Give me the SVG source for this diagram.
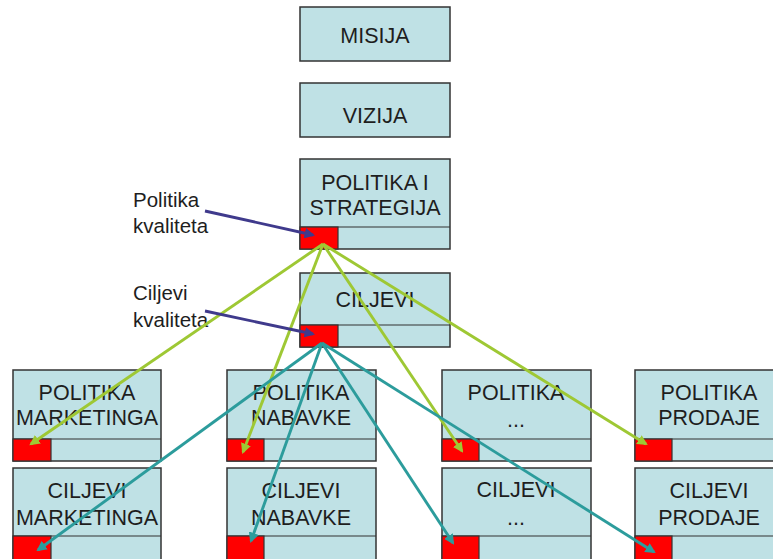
<svg xmlns="http://www.w3.org/2000/svg" width="773" height="559" viewBox="0 0 773 559">
  <style>
    .box { fill: #bfe1e5; stroke: #333; stroke-width: 1.5; }
    .div { stroke: #333; stroke-width: 1.2; fill: none; }
    .tag { fill: #ff0000; stroke: #333; stroke-width: 1.2; }
    .t { font-family: "Liberation Sans", Arial, sans-serif; font-size: 21.5px; fill: #1e1e1e; text-anchor: middle; }
    .lbl { font-family: "Liberation Sans", Arial, sans-serif; font-size: 20.5px; fill: #1e1e1e; }
    .g { stroke: #9ec834; stroke-width: 2.9; fill: none; marker-end: url(#ag); }
    .c { stroke: #2c9c9c; stroke-width: 2.9; fill: none; marker-end: url(#ac); }
    .p { stroke: #3f3a8c; stroke-width: 2.9; fill: none; marker-end: url(#ap); }
  </style>
  <defs>
    <marker id="ag" viewBox="0 0 10 10" refX="8" refY="5" markerWidth="3.6" markerHeight="3.6" orient="auto">
      <path d="M0,0 L10,5 L0,10 z" fill="#9ec834"/>
    </marker>
    <marker id="ac" viewBox="0 0 10 10" refX="8" refY="5" markerWidth="3.6" markerHeight="3.6" orient="auto">
      <path d="M0,0 L10,5 L0,10 z" fill="#2c9c9c"/>
    </marker>
    <marker id="ap" viewBox="0 0 10 10" refX="8" refY="5" markerWidth="3.6" markerHeight="3.6" orient="auto">
      <path d="M0,0 L10,5 L0,10 z" fill="#3f3a8c"/>
    </marker>
  </defs>

  <rect width="773" height="559" fill="#ffffff"/>

  <g id="misija">
    <rect class="box" x="300" y="7" width="150" height="54"/>
    <text class="t" x="375" y="43">MISIJA</text>
  </g>

  <g id="vizija">
    <rect class="box" x="300" y="83" width="150" height="54"/>
    <text class="t" x="375" y="123">VIZIJA</text>
  </g>

  <g id="politika-strategija">
    <rect class="box" x="300" y="159" width="150" height="90"/>
    <line class="div" x1="300" y1="227" x2="450" y2="227"/>
    <rect class="tag" x="300" y="227" width="38" height="22"/>
    <text class="t" x="375" y="190">POLITIKA I</text>
    <text class="t" x="375" y="215">STRATEGIJA</text>
  </g>

  <g id="ciljevi">
    <rect class="box" x="300" y="273" width="150" height="74"/>
    <line class="div" x1="300" y1="325" x2="450" y2="325"/>
    <rect class="tag" x="300" y="325" width="38" height="22"/>
    <text class="t" x="375" y="307">CILJEVI</text>
  </g>

  <g id="politika-marketinga">
    <rect class="box" x="13" y="370" width="148" height="91"/>
    <line class="div" x1="13" y1="439" x2="161" y2="439"/>
    <rect class="tag" x="13" y="439" width="38" height="22"/>
    <text class="t" x="87" y="400">POLITIKA</text>
    <text class="t" x="87" y="425">MARKETINGA</text>
  </g>

  <g id="politika-nabavke">
    <rect class="box" x="227" y="370" width="149" height="91"/>
    <line class="div" x1="227" y1="439" x2="376" y2="439"/>
    <rect class="tag" x="227" y="439" width="37" height="22"/>
    <text class="t" x="301" y="400">POLITIKA</text>
    <text class="t" x="301" y="425">NABAVKE</text>
  </g>

  <g id="politika-ostalo">
    <rect class="box" x="442" y="370" width="149" height="91"/>
    <line class="div" x1="442" y1="439" x2="591" y2="439"/>
    <rect class="tag" x="442" y="439" width="37" height="22"/>
    <text class="t" x="516" y="400">POLITIKA</text>
    <text class="t" x="516" y="427">...</text>
  </g>

  <g id="politika-prodaje">
    <rect class="box" x="635" y="370" width="149" height="91"/>
    <line class="div" x1="635" y1="439" x2="784" y2="439"/>
    <rect class="tag" x="635" y="439" width="37" height="22"/>
    <text class="t" x="709" y="400">POLITIKA</text>
    <text class="t" x="709" y="425">PRODAJE</text>
  </g>

  <g id="ciljevi-marketinga">
    <rect class="box" x="13" y="468" width="148" height="92"/>
    <line class="div" x1="13" y1="536" x2="161" y2="536"/>
    <rect class="tag" x="13" y="536" width="38" height="24"/>
    <text class="t" x="87" y="498">CILJEVI</text>
    <text class="t" x="87" y="525">MARKETINGA</text>
  </g>

  <g id="ciljevi-nabavke">
    <rect class="box" x="227" y="468" width="149" height="92"/>
    <line class="div" x1="227" y1="536" x2="376" y2="536"/>
    <rect class="tag" x="227" y="536" width="37" height="24"/>
    <text class="t" x="301" y="498">CILJEVI</text>
    <text class="t" x="301" y="525">NABAVKE</text>
  </g>

  <g id="ciljevi-ostalo">
    <rect class="box" x="442" y="468" width="149" height="92"/>
    <line class="div" x1="442" y1="536" x2="591" y2="536"/>
    <rect class="tag" x="442" y="536" width="37" height="24"/>
    <text class="t" x="516" y="497">CILJEVI</text>
    <text class="t" x="516" y="525">...</text>
  </g>

  <g id="ciljevi-prodaje">
    <rect class="box" x="635" y="468" width="149" height="92"/>
    <line class="div" x1="635" y1="536" x2="784" y2="536"/>
    <rect class="tag" x="635" y="536" width="37" height="24"/>
    <text class="t" x="709" y="498">CILJEVI</text>
    <text class="t" x="709" y="525">PRODAJE</text>
  </g>

  <g id="labels">
    <text class="lbl" x="133" y="207">Politika</text>
    <text class="lbl" x="133" y="233">kvaliteta</text>
    <text class="lbl" x="133" y="300">Ciljevi</text>
    <text class="lbl" x="133" y="327">kvaliteta</text>
  </g>

  <g id="connectors">
    <!-- quality policy feeds every functional policy -->
    <line class="g" x1="323" y1="244" x2="31" y2="444"/>
    <line class="g" x1="323" y1="244" x2="243" y2="452"/>
    <line class="g" x1="323" y1="244" x2="462" y2="451"/>
    <line class="g" x1="323" y1="244" x2="646" y2="444"/>
    <!-- quality objectives feed every functional objective -->
    <line class="c" x1="322" y1="343" x2="38" y2="550"/>
    <line class="c" x1="322" y1="343" x2="251" y2="541"/>
    <line class="c" x1="322" y1="343" x2="453" y2="543"/>
    <line class="c" x1="322" y1="343" x2="654" y2="552"/>
    <!-- label pointers -->
    <line class="p" x1="205" y1="211" x2="313" y2="235"/>
    <line class="p" x1="205" y1="311" x2="313" y2="334"/>
  </g>
</svg>
